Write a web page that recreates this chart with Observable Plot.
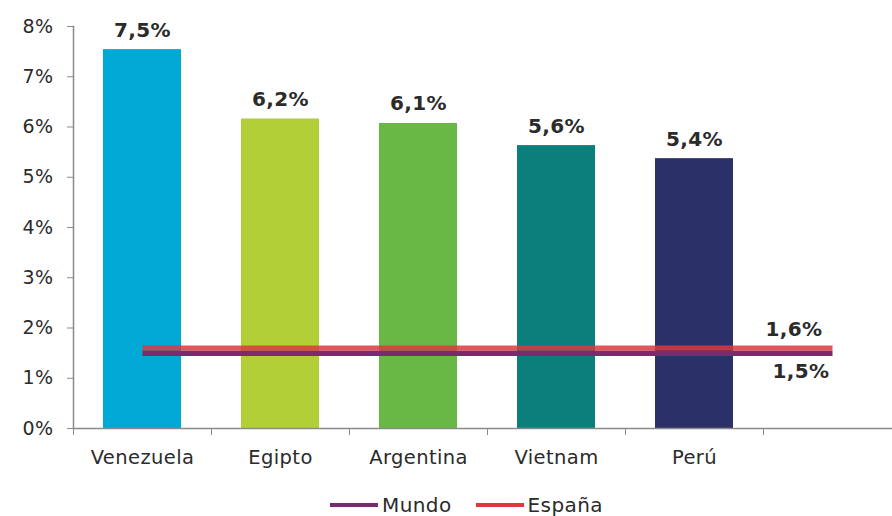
<!DOCTYPE html>
<html>
<head>
<meta charset="utf-8">
<script src="https://cdn.jsdelivr.net/npm/d3@7"></script>
<script src="https://cdn.jsdelivr.net/npm/@observablehq/plot@0.6"></script>
<style>
  html, body { margin: 0; padding: 0; background: #fff; overflow: hidden; }
  body { width: 892px; height: 516px; font-family: "DejaVu Sans", Verdana, sans-serif; }
  #legend { display: flex; align-items: center; height: 22px; padding-top: 14px; padding-left: 330px; font-size: 20px; color: #2b2b2b; letter-spacing: 0.4px; }
  .sw { width: 48px; height: 4px; margin-right: 4px; }
  .item { display: flex; align-items: center; margin-right: 24px; }
  svg text { letter-spacing: 0.4px; }
</style>
</head>
<body>
<div id="chart"></div>
<div id="legend"></div>
<script>
const categories = ["Venezuela", "Egipto", "Argentina", "Vietnam", "Perú", " "];
const barValues = [7.54, 6.16, 6.07, 5.63, 5.37];
const barColors = ["#00a8d6", "#b3cf37", "#69b845", "#0b7f7b", "#2c3068"];
const mundo = [1.5, 1.5, 1.5, 1.5, 1.5, 1.5];
const espana = [1.6, 1.6, 1.6, 1.6, 1.6, 1.6];
const yTicks = [0, 1, 2, 3, 4, 5, 6, 7, 8];
const seriesNames = ["Mundo", "España"];
const seriesColors = ["#7b2a6e", "#d93a3f"];

const fmt = v => v.toFixed(1).replace(".", ",") + "%";
const bars = barValues.map((v, i) => ({cat: categories[i], value: v, color: barColors[i]}));
const mundoData = mundo.map((v, i) => ({cat: categories[i], value: v}));
const espanaData = espana.map((v, i) => ({cat: categories[i], value: v}));
const lastM = mundoData[mundoData.length - 1];
const lastE = espanaData[espanaData.length - 1];

const axisColor = "#8a8a8a";
const textColor = "#2b2b2b";

const chart = Plot.plot({
  width: 892,
  height: 480,
  marginLeft: 73,
  marginRight: 0,
  marginTop: 26,
  marginBottom: 52,
  style: {fontFamily: "DejaVu Sans, Verdana, sans-serif", color: textColor, background: "#fff"},
  x: {domain: categories, range: [73, 901], paddingInner: 0.435, paddingOuter: 0.2175, label: null},
  y: {domain: [0, 8], label: null},
  marks: [
    Plot.barY(bars, {x: "cat", y: "value", fill: "color"}),
    Plot.line(mundoData, {x: "cat", y: "value", stroke: seriesColors[0], strokeWidth: 5.5, strokeLinecap: "butt"}),
    Plot.line(espanaData, {x: "cat", y: "value", stroke: seriesColors[1], strokeWidth: 5, strokeLinecap: "butt", strokeOpacity: 0.85}),
    Plot.text(bars, {x: "cat", y: "value", text: d => fmt(d.value), lineAnchor: "bottom", dy: -13, fontSize: 20, fontWeight: "bold", fill: textColor}),
    Plot.text([lastE], {x: "cat", y: "value", text: d => fmt(d.value), textAnchor: "end", dx: -10, dy: -19, fontSize: 20, fontWeight: "bold", fill: textColor}),
    Plot.text([lastM], {x: "cat", y: "value", text: d => fmt(d.value), textAnchor: "end", dx: -3, dy: 18, fontSize: 20, fontWeight: "bold", fill: textColor}),
    Plot.ruleY([0], {stroke: axisColor, strokeWidth: 1.5}),
    Plot.frame({anchor: "left", stroke: axisColor, strokeWidth: 1.5}),
    Plot.axisY({ticks: yTicks, tickFormat: d => d + "%", tickSize: 6, tickPadding: 14, fontSize: 19, stroke: axisColor, fill: textColor}),
    Plot.axisX({tickSize: 0, tickPadding: 22, fontSize: 19.5, fill: textColor}),
    Plot.axisX({tickSize: 7, tickFormat: () => "", dx: -69, stroke: axisColor})
  ]
});
document.getElementById("chart").appendChild(chart);

const legend = document.getElementById("legend");
seriesNames.forEach((name, i) => {
  const item = document.createElement("div");
  item.className = "item";
  const sw = document.createElement("div");
  sw.className = "sw";
  sw.style.background = seriesColors[i];
  const t = document.createElement("span");
  t.textContent = name;
  item.appendChild(sw);
  item.appendChild(t);
  legend.appendChild(item);
});
</script>
</body>
</html>
